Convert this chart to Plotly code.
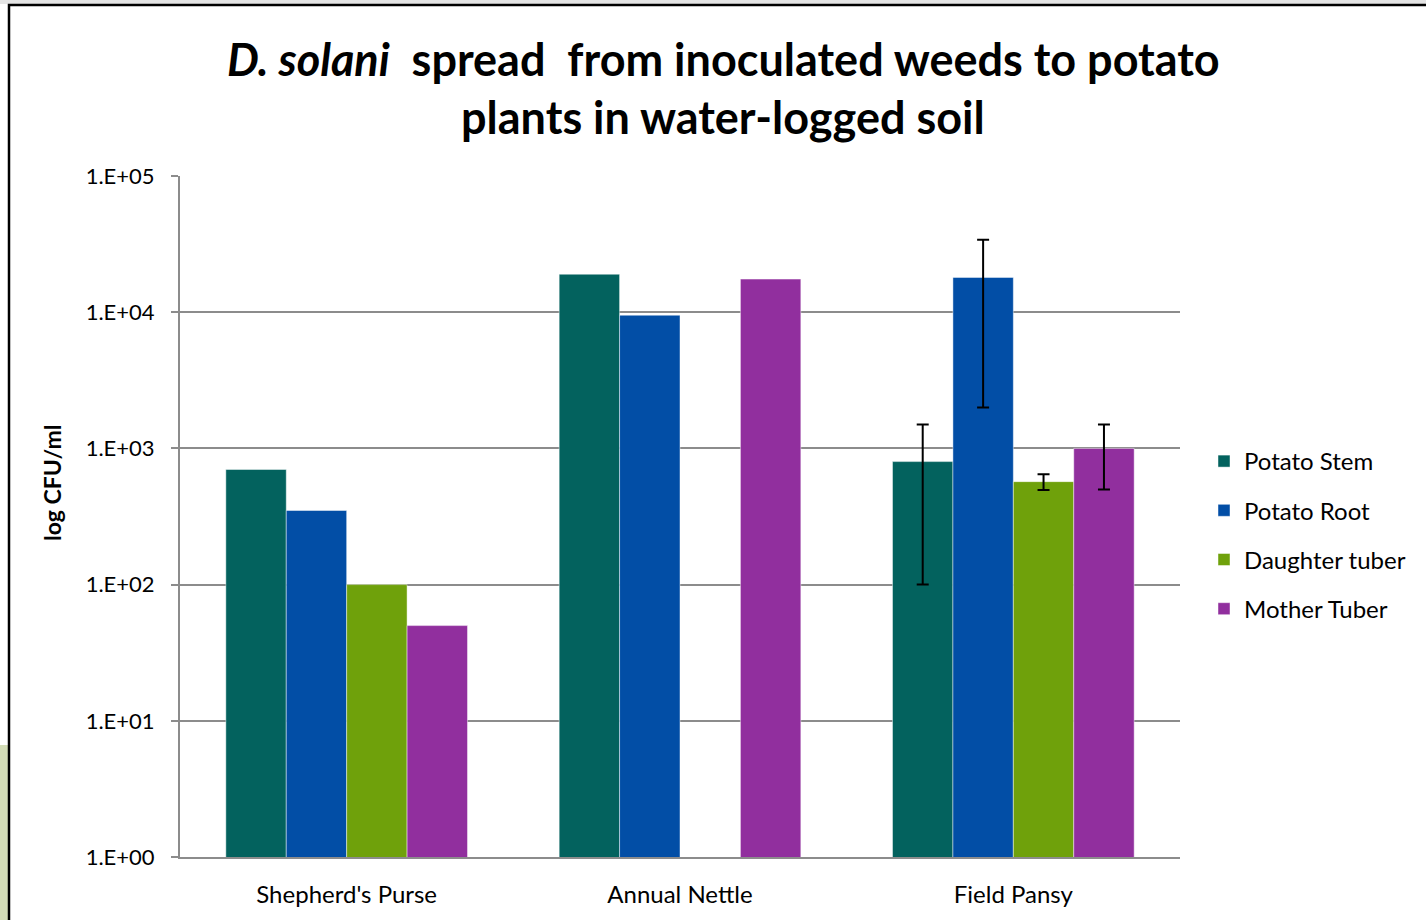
import plotly.graph_objects as go

# Weed hosts (x categories) and plant-part series
weeds = ["Shepherd's Purse", "Annual Nettle", "Field Pansy"]

potato_stem = [700, 19000, 800]
potato_root = [350, 9500, 18000]
daughter_tuber = [100, None, 570]
mother_tuber = [50, 17500, 1000]

# Error bars (only measured for Field Pansy)
err_stem = [None, None, 700]
err_root = [None, None, 16000]
err_daughter = [None, None, 75]
err_mother = [None, None, 500]

series = [
    ("Potato Stem", potato_stem, err_stem, "#03625E"),
    ("Potato Root", potato_root, err_root, "#024EA6"),
    ("Daughter tuber", daughter_tuber, err_daughter, "#6FA10B"),
    ("Mother Tuber", mother_tuber, err_mother, "#912F9E"),
]

y_tickvals = [1, 10, 100, 1000, 10000, 100000]
y_ticktext = ["1.E+00", "1.E+01", "1.E+02", "1.E+03", "1.E+04", "1.E+05"]

FONT = "Lato"
W, H = 1426, 920
ML, MR, MT, MB = 180, 246, 176, 63
PW, PH = W - ML - MR, H - MT - MB


def px_x(x):
    return (x - ML) / PW


def px_y(y):
    return (H - MB - y) / PH


fig = go.Figure()
for i, (name, vals, errs, color) in enumerate(series):
    marker = dict(color=color, line=dict(color="rgba(255,255,255,0.45)", width=1))
    # categories without a measured spread: plain bars
    plain_x = [w for w, e in zip(weeds, errs) if e is None]
    plain_y = [v for v, e in zip(vals, errs) if e is None]
    fig.add_trace(go.Bar(
        name=name, x=plain_x, y=plain_y, offsetgroup=name,
        legendgroup=name, marker=marker,
    ))
    # categories with error bars, sharing the same slot in the group
    err_x = [w for w, e in zip(weeds, errs) if e is not None]
    err_y = [v for v, e in zip(vals, errs) if e is not None]
    err_v = [e for e in errs if e is not None]
    fig.add_trace(go.Bar(
        name=name, x=err_x, y=err_y, offsetgroup=name,
        legendgroup=name, showlegend=False, marker=marker,
        error_y=dict(type="data", array=err_v, visible=True,
                     color="black", thickness=2, width=6),
    ))

nb = "\u00a0"
title_line1 = f"<b><i>D. solani</i>{nb} spread{nb} from inoculated weeds to potato</b>"
title_line2 = "<b>plants in water-logged soil</b>"

annotations = [
    dict(text=title_line1, x=px_x(723), y=px_y(59), xref="paper", yref="paper",
         xanchor="center", yanchor="middle", showarrow=False,
         font=dict(family=FONT, size=45, color="black")),
    dict(text=title_line2, x=px_x(723), y=px_y(117), xref="paper", yref="paper",
         xanchor="center", yanchor="middle", showarrow=False,
         font=dict(family=FONT, size=45, color="black")),
    dict(text="<b>log CFU/ml</b>", textangle=-90,
         x=px_x(52), y=px_y(483), xref="paper", yref="paper",
         xanchor="center", yanchor="middle", showarrow=False,
         font=dict(family=FONT, size=23, color="black")),
]

fig.update_layout(
    width=W, height=H,
    margin=dict(l=ML, r=MR, t=MT, b=MB),
    paper_bgcolor="white",
    plot_bgcolor="white",
    font=dict(family=FONT, color="black"),
    barmode="group",
    bargap=0.275,
    bargroupgap=0,
    legend=dict(x=px_x(1204), xanchor="left", y=px_y(535), yanchor="middle",
                font=dict(family=FONT, size=24, color="black"),
                tracegroupgap=15, bgcolor="rgba(0,0,0,0)"),
    xaxis=dict(showline=True, linecolor="#8c8c8c", linewidth=2,
               ticks="", tickfont=dict(family=FONT, size=24, color="black"),
               ticklabelstandoff=15),
    yaxis=dict(type="log", range=[0, 5], tickvals=y_tickvals, ticktext=y_ticktext,
               showline=True, linecolor="#8c8c8c", linewidth=2,
               ticks="outside", ticklen=7, tickcolor="#8c8c8c", tickwidth=2,
               showgrid=True, gridcolor="#8c8c8c", gridwidth=1.5,
               tickfont=dict(family=FONT, size=22, color="black"),
               ticklabelstandoff=12, zeroline=False),
    annotations=annotations,
    shapes=[
        # strip outside the chart frame
        dict(type="rect", xref="paper", yref="paper",
             x0=px_x(0), x1=px_x(9), y0=px_y(920), y1=px_y(745),
             fillcolor="#d3dcb6", line=dict(width=0), layer="below"),
        dict(type="rect", xref="paper", yref="paper",
             x0=px_x(0), x1=px_x(1426), y0=px_y(4), y1=px_y(0),
             fillcolor="#e4e4e4", line=dict(width=0), layer="below"),
        # chart frame
        dict(type="rect", xref="paper", yref="paper",
             x0=px_x(9), x1=px_x(1440), y0=px_y(940), y1=px_y(5),
             line=dict(color="black", width=2.5), fillcolor="rgba(0,0,0,0)"),
    ],
)

fig.write_html("out.html")
